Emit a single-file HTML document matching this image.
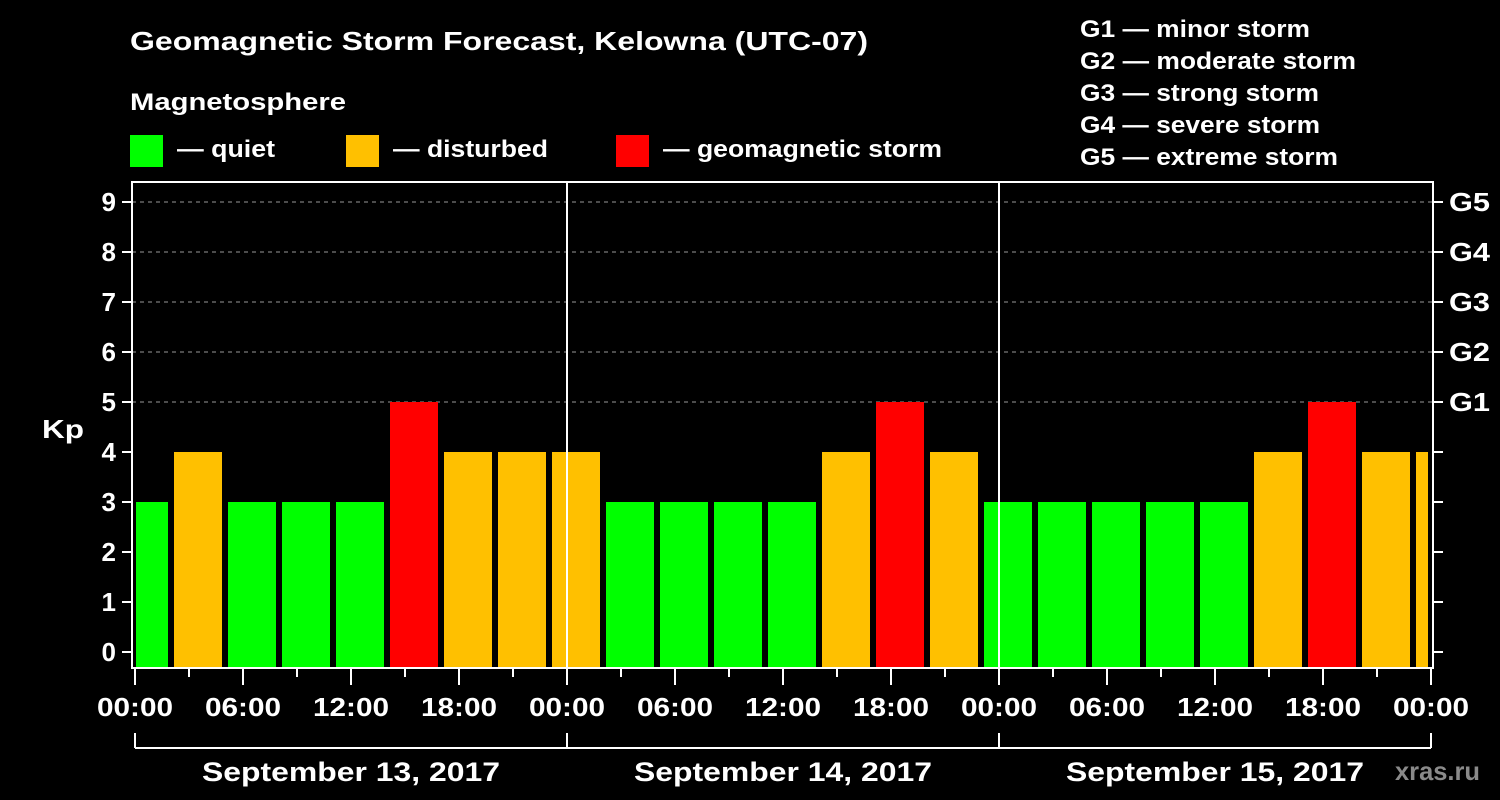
<!DOCTYPE html>
<html><head><meta charset="utf-8"><style>
body{margin:0;background:#000;width:1500px;height:800px;overflow:hidden}
svg{display:block}
text{font-family:"Liberation Sans",Arial,sans-serif;font-weight:bold;fill:#fff}
</style></head><body>
<svg id="chart" width="1500" height="800">
<text x="130" y="50" font-size="26" textLength="738" lengthAdjust="spacingAndGlyphs">Geomagnetic Storm Forecast, Kelowna (UTC-07)</text>
<text x="130" y="110" font-size="24" textLength="216" lengthAdjust="spacingAndGlyphs">Magnetosphere</text>
<g><rect x="130" y="135" width="33" height="32" fill="#00ff00"/><text x="177" y="157" font-size="24" textLength="98" lengthAdjust="spacingAndGlyphs">— quiet</text></g>
<g><rect x="346" y="135" width="33" height="32" fill="#ffc000"/><text x="393" y="157" font-size="24" textLength="155" lengthAdjust="spacingAndGlyphs">— disturbed</text></g>
<g><rect x="616" y="135" width="33" height="32" fill="#ff0000"/><text x="663" y="157" font-size="24" textLength="279" lengthAdjust="spacingAndGlyphs">— geomagnetic storm</text></g>
<g font-size="24">
<text x="1080" y="37" textLength="230" lengthAdjust="spacingAndGlyphs">G1 — minor storm</text>
<text x="1080" y="69" textLength="276" lengthAdjust="spacingAndGlyphs">G2 — moderate storm</text>
<text x="1080" y="101" textLength="239" lengthAdjust="spacingAndGlyphs">G3 — strong storm</text>
<text x="1080" y="133" textLength="240" lengthAdjust="spacingAndGlyphs">G4 — severe storm</text>
<text x="1080" y="165" textLength="258" lengthAdjust="spacingAndGlyphs">G5 — extreme storm</text>
</g>
<text x="42" y="438" font-size="26" textLength="42" lengthAdjust="spacingAndGlyphs">Kp</text>
<g id="plot"></g>
<text x="1395" y="780" font-size="26" textLength="85" lengthAdjust="spacingAndGlyphs" style="fill:#8a8a8a">xras.ru</text>
</svg>
<script>
const kpValues=[3,4,3,3,3,5,4,4,4,3,3,3,3,4,5,4,3,3,3,3,3,4,5,4,4];
const kpTicks=[0,1,2,3,4,5,6,7,8,9];
const gLabels=["G1","G2","G3","G4","G5"];
const timeLabels=["00:00","06:00","12:00","18:00"];
const dateLabels=["September 13, 2017","September 14, 2017","September 15, 2017"];
const NS="http://www.w3.org/2000/svg";
const plot=document.getElementById('plot');
const X0=135,PXH=18,Y0=652,PXK=50,LEFT=132,RIGHT=1433,TOP=182,BOT=668;
const xs=h=>X0+h*PXH, ys=v=>Y0-v*PXK;
function mk(t,a,txt){const e=document.createElementNS(NS,t);for(const k in a)e.setAttribute(k,a[k]);if(txt!==undefined)e.textContent=txt;plot.appendChild(e);return e;}
for(let v=5;v<=9;v++){const e=mk('line',{x1:LEFT,x2:RIGHT,y1:ys(v),y2:ys(v),stroke:'#999','stroke-dasharray':'4,4','stroke-width':1});

}
kpValues.forEach((v,k)=>{
 let x1=xs(3*k-1)+3,x2=xs(3*k+2)-3;x1=Math.max(x1,LEFT+4);x2=Math.min(x2,RIGHT-5);
 const c=v>=5?'#ff0000':(v>=4?'#ffc000':'#00ff00');
 const r=mk('rect',{x:x1,y:ys(v),width:x2-x1,height:BOT-ys(v),fill:c});
 
 
});
for(let d=1;d<3;d++){const e=mk('line',{x1:xs(24*d),x2:xs(24*d),y1:TOP,y2:BOT,stroke:'#fff','stroke-width':2});

}
const f=mk('rect',{x:LEFT,y:TOP,width:RIGHT-LEFT,height:BOT-TOP,fill:'none',stroke:'#fff','stroke-width':2});


kpTicks.forEach(v=>{
 mk('line',{x1:LEFT-10,x2:LEFT,y1:ys(v),y2:ys(v),stroke:'#fff','stroke-width':2});
 mk('line',{x1:RIGHT,x2:RIGHT+10,y1:ys(v),y2:ys(v),stroke:'#fff','stroke-width':2});
 const t=mk('text',{x:LEFT-16,y:ys(v)+9,'font-size':26,'text-anchor':'end'},String(v));
 
 
});
gLabels.forEach((g,i)=>{const t=mk('text',{x:RIGHT+16,y:ys(5+i)+9,'font-size':26,textLength:41,lengthAdjust:'spacingAndGlyphs'},g);
 
 });
for(let h=0;h<=72;h+=3){const major=h%6===0;
 mk('line',{x1:xs(h),x2:xs(h),y1:BOT,y2:BOT+(major?17:9),stroke:'#fff','stroke-width':2});
 if(major){const t=mk('text',{x:xs(h),y:716,'font-size':26,'text-anchor':'middle',textLength:76,lengthAdjust:'spacingAndGlyphs'},timeLabels[(h/6)%4]);
 
 }}
mk('line',{x1:xs(0),x2:xs(72),y1:748,y2:748,stroke:'#fff','stroke-width':2});
for(let d=0;d<=3;d++)mk('line',{x1:xs(24*d),x2:xs(24*d),y1:733,y2:748,stroke:'#fff','stroke-width':2});
dateLabels.forEach((s,d)=>{const t=mk('text',{x:xs(24*d+12),y:781,'font-size':27,'text-anchor':'middle',textLength:298,lengthAdjust:'spacingAndGlyphs'},s);
 
 });
</script>
</body></html>
